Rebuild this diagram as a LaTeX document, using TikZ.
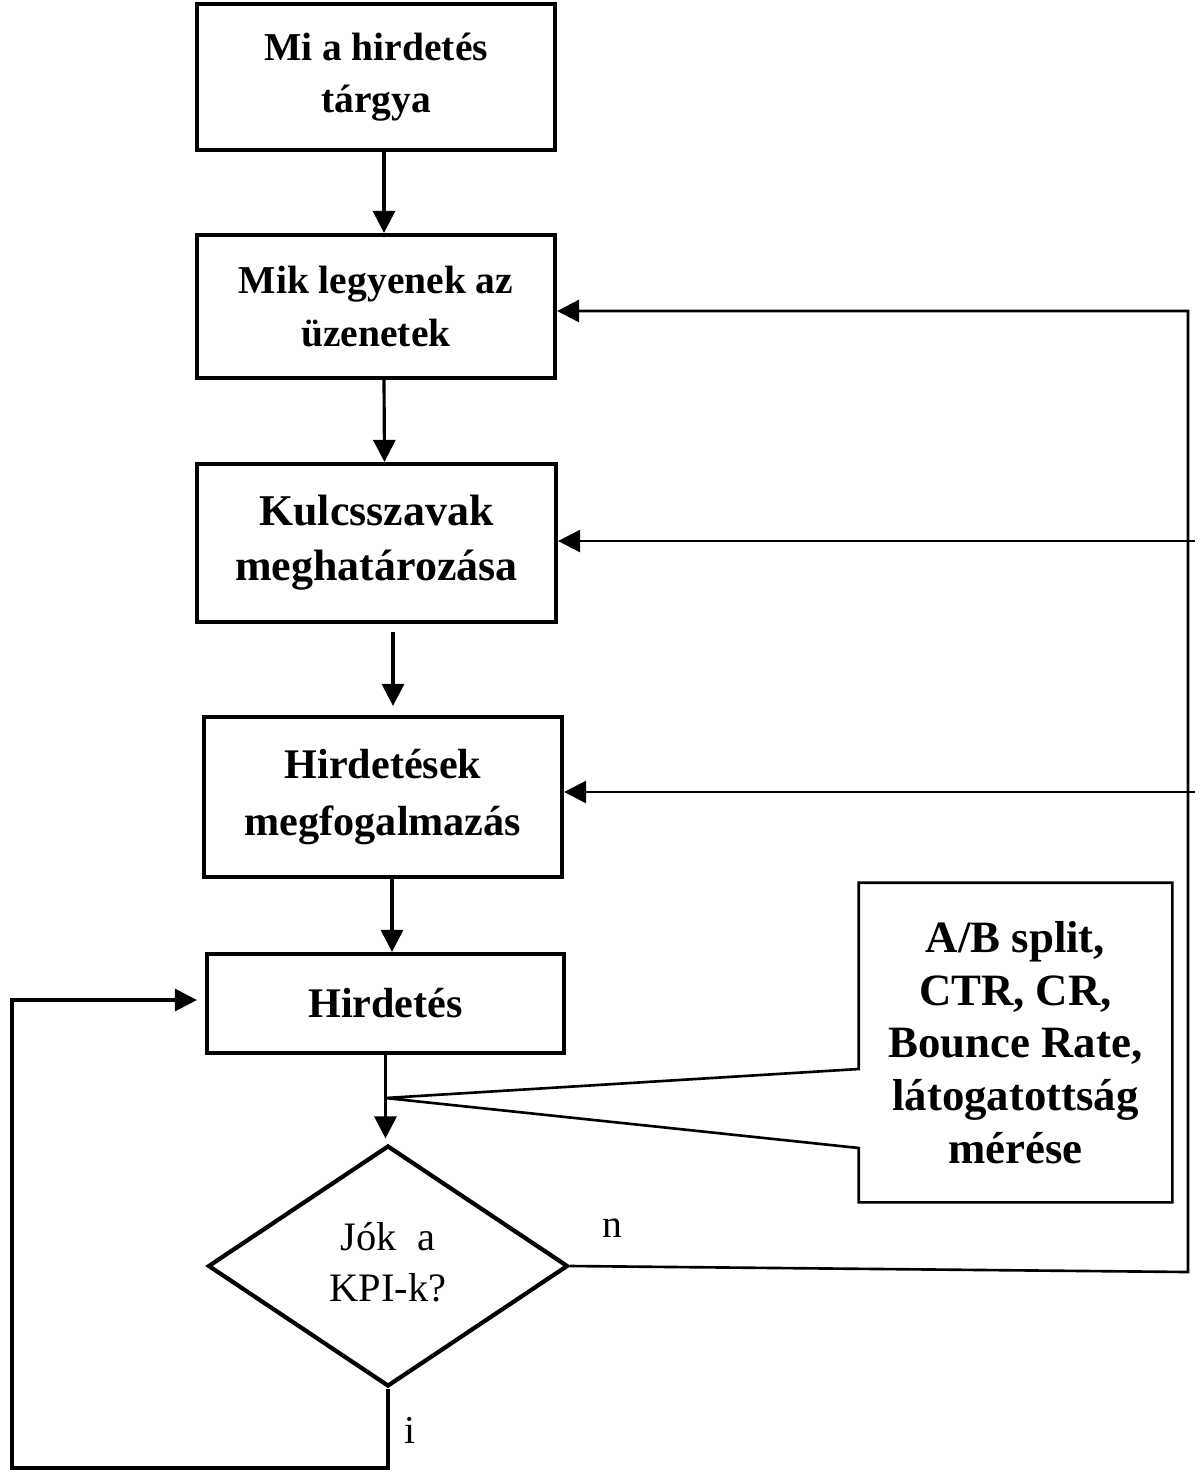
\documentclass[tikz,border=0pt]{standalone}
\usepackage{fontspec}
\setmainfont{Liberation Serif}
\usetikzlibrary{arrows.meta,shapes.geometric}

\tikzset{
  box/.style={draw, line width=2.4pt, align=center, inner sep=0pt,
    font=\bfseries\fontsize{22.5}{30}\selectfont},
  arr/.style={-{Triangle[length=0.44cm,width=0.44cm]}, line width=1.8pt},
  lbl/.style={font=\fontsize{22.5}{28}\selectfont},
}

\begin{document}
\begin{tikzpicture}[x=0.02cm,y=-0.02cm]
    \useasboundingbox (0,0) rectangle (1200,1472);

    % steps
    \node[box, minimum width=7.16cm, minimum height=2.92cm] (targy) at (376,77) {Mi a hirdetés\\tárgya};
    \node[box, minimum width=7.16cm, minimum height=2.86cm] (uzenet) at (376,306.5) {Mik legyenek az\\üzenetek};
    \node[box, minimum width=7.18cm, minimum height=3.16cm,
        font=\bfseries\fontsize{25}{31.3}\selectfont] (kulcsszo) at (376.5,543) {Kulcsszavak\\meghatározása};
    \node[box, minimum width=7.16cm, minimum height=3.2cm,
        font=\bfseries\fontsize{24}{32}\selectfont] (megfogalm) at (383,797) {Hirdetések\\megfogalmazás};
    \node[box, minimum width=7.14cm, minimum height=1.98cm,
        font=\bfseries\fontsize{24}{30}\selectfont] (hirdetes) at (385.5,1003.5) {Hirdetés};
    \node[diamond, draw, line width=2.4pt, minimum width=7.2cm, minimum height=4.82cm, inner sep=0pt,
        font=\fontsize{23}{29}\selectfont] (kpi) at (388,1266)
        {\raisebox{0.15cm}{\begin{tabular}{@{}c@{}}Jók\ \ a\\KPI-k?\end{tabular}}};
    \node[align=center, minimum width=6.26cm, minimum height=6.38cm,
        font=\bfseries\fontsize{25.5}{30}\selectfont] (meres) at (1015.5,1042.5)
        {A/B split,\\CTR, CR,\\Bounce Rate,\\látogatottság\\mérése};

    % main flow
    \draw[arr] ([xshift=0.16cm]targy.south) -- ([xshift=0.16cm]uzenet.north);
    \draw[arr] ([xshift=0.16cm]uzenet.south) -- ([xshift=0.16cm]kulcsszo.north);
    \draw[arr, shorten <=0.16cm, shorten >=0.18cm] ([xshift=0.33cm]kulcsszo.south) -- ([xshift=0.33cm]kulcsszo.south |- megfogalm.north);
    \draw[arr] ([xshift=0.18cm]megfogalm.south) -- ([xshift=0.18cm]megfogalm.south |- hirdetes.north);
    \draw[arr, shorten >=0.1cm] (hirdetes.south) -- (hirdetes.south |- kpi.north);

    % callout
    \coordinate (j) at (385.5,1098);
    \coordinate (mtop) at ([yshift=-0.53cm]meres.west);
    \coordinate (mbot) at ([yshift=-2.11cm]meres.west);
    \draw[line width=1.5pt, line join=miter] (mtop) -- (meres.north west) -- (meres.north east)
        -- (meres.south east) -- (meres.south west) -- (mbot) -- (j) -- cycle;

    % loop back: n
    \coordinate (rb) at (1188,1272);
    \coordinate (rt) at (1188,311);
    \coordinate (r3) at (1195,541);
    \coordinate (r4) at (1195,792);
    \draw[arr, line width=1.5pt] (kpi.east) -- (rb) -- (rt) -- (rt -| uzenet.east);
    \draw[arr, line width=1.5pt] (r3) -- (r3 -| kulcsszo.east);
    \draw[arr, line width=1.5pt] (r4) -- (r4 -| megfogalm.east);
    \node[lbl] (n) at (612,1228) {n};

    % loop back: i
    \coordinate (lb) at (12,1468);
    \coordinate (lt) at (12,1000);
    \draw[arr, shorten >=0.16cm] (kpi.south) -- (kpi.south |- lb) -- (lb) -- (lt) -- (lt -| hirdetes.west);
    \node[lbl] (i) at (410,1430) {i};
\end{tikzpicture}
\end{document}
